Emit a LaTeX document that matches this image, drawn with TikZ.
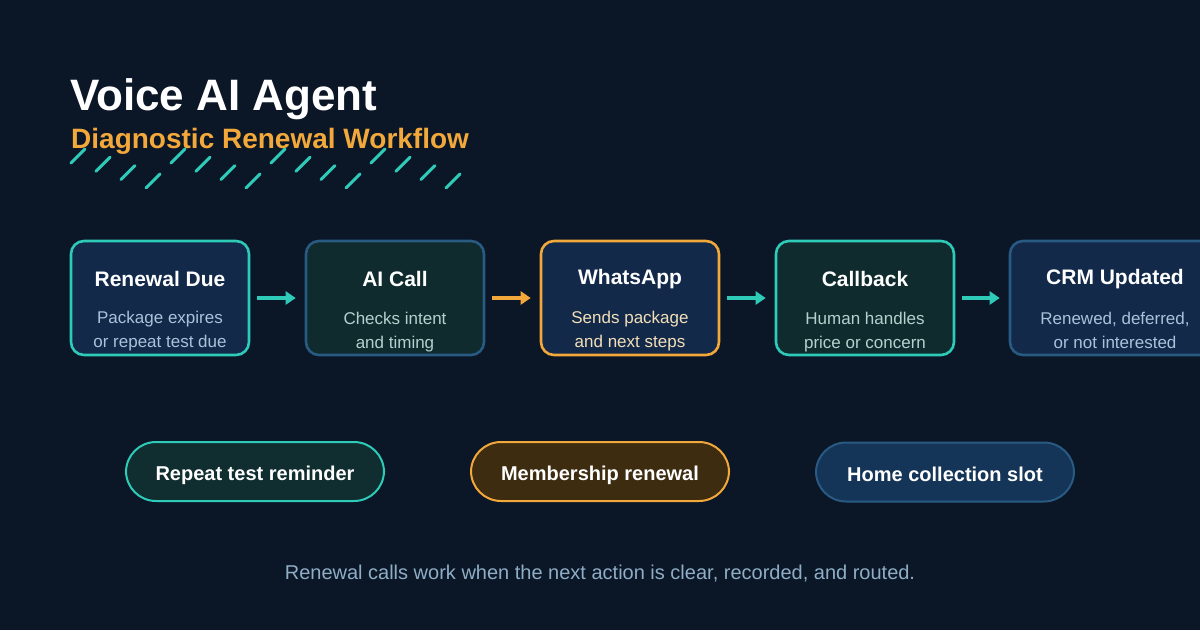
\documentclass[tikz,border=0pt]{standalone}
\usepackage{fontspec}
\setmainfont{Liberation Sans}
\usetikzlibrary{arrows.meta,calc}
\definecolor{BgClr}{HTML}{0B1627}
\definecolor{TealClr}{HTML}{2DCBB8}
\definecolor{GoldClr}{HTML}{F2A83A}
\definecolor{SteelClr}{HTML}{285A82}
\definecolor{NavyFill}{HTML}{12294A}
\definecolor{PineFill}{HTML}{102B2D}
\definecolor{PillTeal}{HTML}{102E30}
\definecolor{PillGold}{HTML}{3D2C10}
\definecolor{PillNavy}{HTML}{143557}
\definecolor{SubNavy}{HTML}{A9C3D9}
\definecolor{SubPine}{HTML}{B3D2CF}
\definecolor{SubGold}{HTML}{F3DFB8}
\definecolor{NoteClr}{HTML}{8EAEC6}

\begin{document}
\begin{tikzpicture}[x=1pt,y=-1pt,
  stepbox/.style={draw,rounded corners=13pt,line width=2.6pt,minimum width=178pt,minimum height=114pt,inner sep=0pt},
  steptitle/.style={anchor=base,text=white,font=\fontsize{21}{24}\selectfont\bfseries},
  stepsub/.style={anchor=base,align=center,font=\fontsize{17}{24}\selectfont},
  pill/.style={draw,rounded corners=30pt,line width=2pt,minimum width=258pt,minimum height=59pt,inner sep=0pt,text height=18pt,text depth=0pt,text=white,font=\fontsize{20}{22}\selectfont\bfseries},
  flow/.style={line width=4pt,shorten <=7pt,shorten >=9pt,-{Triangle[length=10pt,width=13pt]}},
  hatch/.style={TealClr,line width=3pt,line cap=round}]
\useasboundingbox (0,0) rectangle (1200,630);
\clip (0,0) rectangle (1200,630);
\fill[BgClr] (0,0) rectangle (1200,630);

\node[anchor=base west,inner sep=0pt,text=white,font=\fontsize{44}{48}\selectfont\bfseries] (title) at (70,110) {Voice AI Agent};
\node[anchor=base west,inner sep=0pt,text=GoldClr,font=\fontsize{28}{30}\selectfont\bfseries] (subtitle) at (71,148) {Diagnostic Renewal Workflow};
\foreach \i in {0,...,15}
  \draw[hatch] ({71+25*\i},{163+8.3*mod(\i,4)}) -- ++(14,-14);

\node[stepbox,draw=TealClr,fill=NavyFill] (due) at (160,298) {};
\node[stepbox,draw=SteelClr,fill=PineFill] (call) at (395,298) {};
\node[stepbox,draw=GoldClr,fill=NavyFill] (whatsapp) at (630,298) {};
\node[stepbox,draw=TealClr,fill=PineFill] (callback) at (865,298) {};
\node[stepbox,draw=SteelClr,fill=NavyFill,minimum width=210pt] (crm) at (1115,298) {};

\node[steptitle] at (160,286) {Renewal Due};
\node[stepsub,text=SubNavy] at (160,347) {Package expires\\or repeat test due};
\node[steptitle] at (395,286) {AI Call};
\node[stepsub,text=SubPine] at (395,348) {Checks intent\\and timing};
\node[steptitle] at (630,284) {WhatsApp};
\node[stepsub,text=SubGold] at (630,347) {Sends package\\and next steps};
\node[steptitle] at (865,286) {Callback};
\node[stepsub,text=SubPine] at (865,348) {Human handles\\price or concern};
\node[steptitle] at (1115,284) {CRM Updated};
\node[stepsub,text=SubNavy] at (1115,348) {Renewed, deferred,\\or not interested};

\draw[flow,TealClr] (due) -- (call);
\draw[flow,GoldClr] (call) -- (whatsapp);
\draw[flow,TealClr] (whatsapp) -- (callback);
\draw[flow,TealClr] (callback) -- (crm.west);

\node[pill,draw=TealClr,fill=PillTeal] (reminder) at (255,471.5) {Repeat test reminder};
\node[pill,draw=GoldClr,fill=PillGold] (membership) at (600,471.5) {Membership renewal};
\node[pill,draw=SteelClr,fill=PillNavy] (homeslot) at (945,472) {Home collection slot};

\node[anchor=base,text=NoteClr,font=\fontsize{20}{22}\selectfont] (note) at (600,579) {Renewal calls work when the next action is clear, recorded, and routed.};
\end{tikzpicture}
\end{document}
